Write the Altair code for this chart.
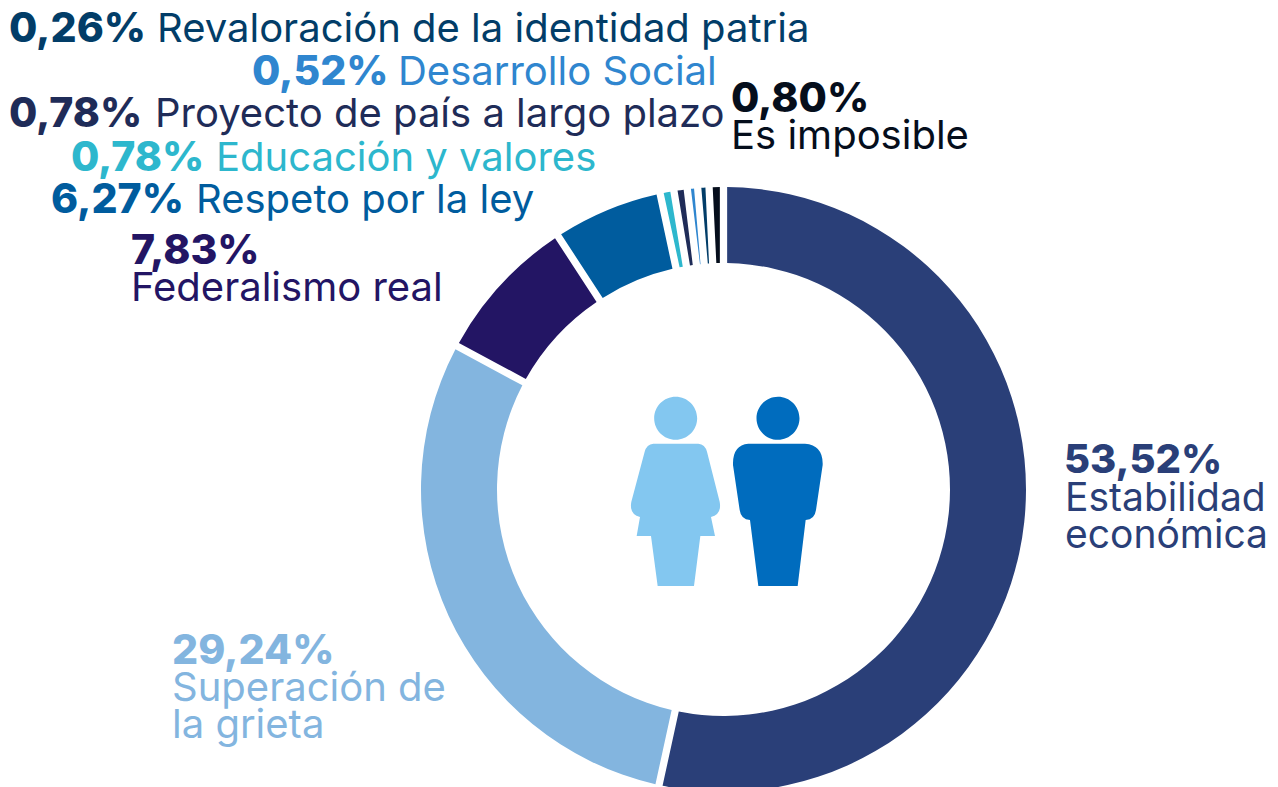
import altair as alt
import pandas as pd

categories = ["Estabilidad económica", "Superación de la grieta", "Federalismo real", "Respeto por la ley",
              "Educación y valores", "Proyecto de país a largo plazo", "Desarrollo Social",
              "Revaloración de la identidad patria", "Es imposible"]
# shares as drawn in the picture (the printed percentages are in the labels below;
# the smallest slices of the reference are drawn a little wider than printed)
drawn_shares = [53.42, 29.44, 7.93, 5.85, 0.74, 0.71, 0.55, 0.60, 0.76]
palette = ["#2A3F78", "#83B5DF", "#231564", "#005C9E", "#2DB7CD", "#1F2C58", "#2F86CF", "#023D68", "#050E1C"]
pct_labels = ["53,52%", "29,24%", "7,83%", "6,27%", "0,78%", "0,78%", "0,52%", "0,26%", "0,80%"]

W, H = 1262, 779
OX, OY = 8, 8
FONT = "Inter"
BOLD = 41
REG = 40

df = pd.DataFrame({"category": categories, "share": drawn_shares, "i": range(len(categories))})

ring = alt.Chart(df).mark_arc(radius=302.5, radius2=226.5, padAngle=0.0193).encode(
    x=alt.value(723.5 - OX), y=alt.value(489.5 - OY),
    theta=alt.Theta("share:Q", stack=True),
    order=alt.Order("i:Q"),
    color=alt.Color("category:N", scale=alt.Scale(domain=categories, range=palette), legend=None),
)

base = alt.Chart(pd.DataFrame({"a": [0]}))


def label(text, color, x, y, bold=False, size=None):
    return base.mark_text(
        text=text, align="left", baseline="alphabetic", font=FONT, color=color,
        fontSize=size or (BOLD if bold else REG), fontWeight=800 if bold else 400,
    ).encode(x=alt.value(x - OX), y=alt.value(y - OY))


layers = [ring]
inline = [(7, 9, 157, 42), (6, 252, 398, 85), (5, 9, 155, 127), (4, 71, 216, 171), (3, 51, 196, 213)]
for i, xb, xr, yb in inline:
    layers.append(label(pct_labels[i], palette[i], xb, yb, True))
    layers.append(label(categories[i], palette[i], xr, yb))

layers += [
    label(pct_labels[2], palette[2], 131, 264, True), label("Federalismo real", palette[2], 131, 301),
    label(pct_labels[8], palette[8], 731, 112, True), label("Es imposible", palette[8], 731, 149),
    label(pct_labels[0], palette[0], 1064, 473, True, 40), label("Estabilidad", palette[0], 1065, 511, False, 39),
    label("económica", palette[0], 1065, 548, False, 39),
    label(pct_labels[1], palette[1], 172, 664, True), label("Superación de", palette[1], 172, 701),
    label("la grieta", palette[1], 172, 738),
]

# pictograms: outlines in the 3x zoom's coordinates, anchored at (320, 320)
UNIT = 300.0


def outline(cmds):
    out = []
    for c in cmds:
        head, *nums = c
        pts = [(n - 320) / UNIT for n in nums]
        out.append(head + " ".join(f"{p:.4f}" for p in pts))
    return "".join(out) + "Z"


def circle(cx, cy, r):
    x0 = (cx - r - 320) / UNIT
    y0 = (cy - 320) / UNIT
    rr = r / UNIT
    return f"M{x0:.4f} {y0:.4f}a{rr:.4f} {rr:.4f} 0 1 0 {2*rr:.4f} 0a{rr:.4f} {rr:.4f} 0 1 0 {-2*rr:.4f} 0Z"


woman = outline([
    ("M", 100, 176), ("L", 235, 176), ("Q", 255, 178, 261, 200), ("L", 299, 350), ("Q", 306, 388, 273, 396),
    ("L", 285, 453), ("L", 241, 453), ("L", 222, 603), ("L", 113, 603), ("L", 93, 453), ("L", 50, 453),
    ("L", 60, 396), ("Q", 27, 388, 34, 350), ("L", 74, 200), ("Q", 80, 178, 100, 176),
]) + circle(167, 100, 64.5)

man = outline([
    ("M", 385, 176), ("L", 555, 176), ("Q", 610, 180, 608, 240), ("L", 588, 375), ("Q", 584, 404, 557, 405),
    ("L", 533, 603), ("L", 415, 603), ("L", 390, 405), ("Q", 363, 404, 359, 375), ("L", 339, 240),
    ("Q", 337, 180, 385, 176),
]) + circle(474, 100, 64.5)

anchor_x = 620 + 320 / 3 - OX
anchor_y = 385 + 320 / 3 - OY
for path, col in [(woman, "#83C7F0"), (man, "#006CBE")]:
    layers.append(base.mark_point(shape=path, size=40000, filled=True, fill=col, stroke=None, opacity=1).encode(
        x=alt.value(anchor_x), y=alt.value(anchor_y)))

chart = alt.layer(*layers).properties(
    width=W, height=H, padding=0, autosize=alt.AutoSizeParams(type="none"), background="white"
).configure_view(stroke=None)

chart.save("out.html", embed_options={"renderer": "svg", "actions": False})
